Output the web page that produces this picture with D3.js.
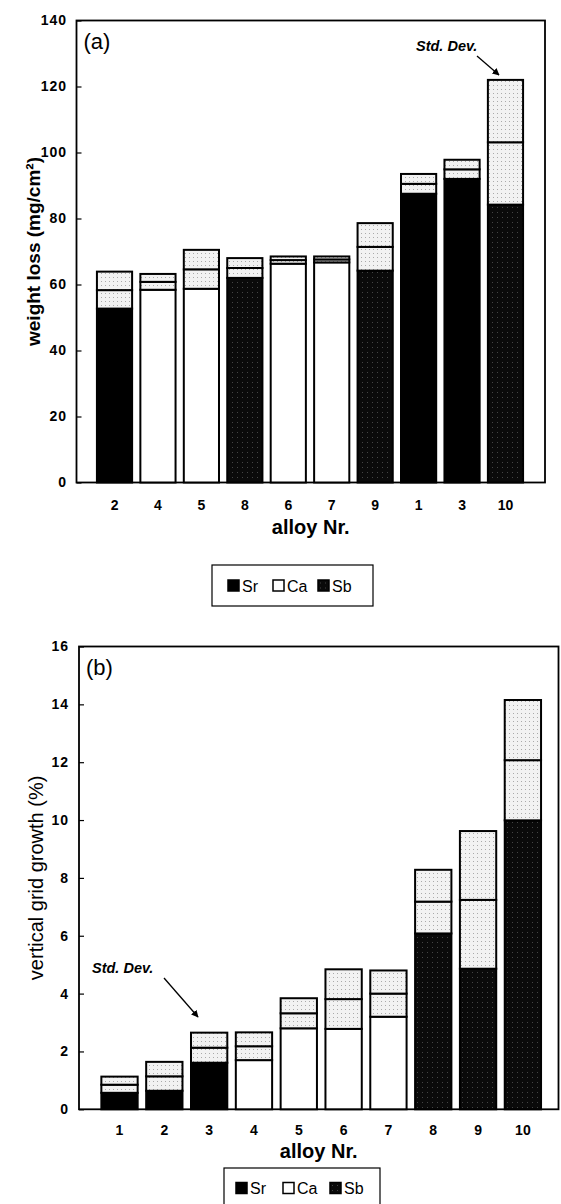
<!DOCTYPE html>
<html>
<head>
<meta charset="utf-8">
<script src="https://cdn.jsdelivr.net/npm/d3@7"></script>
<style>
  body { margin: 0; background: #fff; }
  svg { display: block; font-family: "Liberation Sans", Arial, sans-serif; }
</style>
</head>
<body>
<div id="chart"></div>
<script>
// data
const alloyType = ["Sr", "Sr", "Sr", "Ca", "Ca", "Ca", "Ca", "Sb", "Sb", "Sb"]; // alloy 1..10

const alloysA = ["2", "4", "5", "8", "6", "7", "9", "1", "3", "10"];
const meanA = [58.3, 60.8, 64.6, 65.0, 67.4, 67.6, 71.4, 90.5, 94.9, 103.1];
const sdA = [5.6, 2.4, 5.9, 3.0, 1.1, 0.9, 7.2, 3.0, 2.9, 18.9];
const ticksA = [0, 20, 40, 60, 80, 100, 120, 140];

const alloysB = ["1", "2", "3", "4", "5", "6", "7", "8", "9", "10"];
const meanB = [0.85, 1.14, 2.13, 2.18, 3.32, 3.81, 4.0, 7.18, 7.24, 12.07];
const sdB = [0.28, 0.5, 0.52, 0.48, 0.52, 1.03, 0.8, 1.1, 2.38, 2.08];
const ticksB = [0, 2, 4, 6, 8, 10, 12, 14, 16];

const legendKeys = ["Sr", "Ca", "Sb"];

const W = 561, H = 1204;
const svg = d3.select("#chart").append("svg").attr("width", W).attr("height", H);

// fills
const defs = svg.append("defs");
const sbPat = defs.append("pattern").attr("id", "sb").attr("width", 5).attr("height", 5)
  .attr("patternUnits", "userSpaceOnUse");
sbPat.append("rect").attr("width", 5).attr("height", 5).attr("fill", "#0a0a0a");
sbPat.append("rect").attr("x", 2).attr("y", 2).attr("width", 1).attr("height", 1).attr("fill", "#444");
const sdPat = defs.append("pattern").attr("id", "sd").attr("width", 4).attr("height", 4)
  .attr("patternUnits", "userSpaceOnUse");
sdPat.append("rect").attr("width", 4).attr("height", 4).attr("fill", "#f2f2f2");
sdPat.append("rect").attr("x", 1).attr("y", 1).attr("width", 1).attr("height", 1).attr("fill", "#aaa");

defs.append("marker").attr("id", "arrow").attr("viewBox", "0 0 10 10")
  .attr("refX", 9).attr("refY", 5).attr("markerWidth", 5.5).attr("markerHeight", 5.5)
  .attr("orient", "auto")
  .append("path").attr("d", "M0,0L10,5L0,10z").attr("fill", "#000");

const typeFill = { Sr: "#000", Ca: "#fff", Sb: "url(#sb)" };

const drawPanel = (cfg) => {
  const { alloys, mean, sd, ticks, box, band, label, yTitle, yTitleBold, yTitleSize,
          xPad, xTitleY, legend, stdDev, tickRight } = cfg;

  const x = d3.scaleBand().domain(alloys).range(band).paddingInner(0.19).paddingOuter(0.095);
  const y = d3.scaleLinear().domain([0, d3.max(ticks)]).range([box.bottom, box.top]);

  const g = svg.append("g");

  // frame
  g.append("rect")
    .attr("x", box.left).attr("y", box.top)
    .attr("width", box.right - box.left).attr("height", box.bottom - box.top)
    .attr("fill", "none").attr("stroke", "#000").attr("stroke-width", 1.8);

  // y axis with inside ticks
  g.append("g")
    .attr("transform", `translate(${box.left},0)`)
    .call(d3.axisLeft(y).tickValues(ticks).tickSize(-5).tickPadding(box.left - tickRight))
    .call((a) => a.select(".domain").remove())
    .call((a) => a.selectAll("line").attr("stroke-width", 1.2))
    .call((a) => a.selectAll("text").attr("font-size", 14).attr("font-weight", "bold")
      .attr("font-family", "Liberation Sans, Arial, sans-serif").attr("letter-spacing", 1).attr("fill", "#000"));

  // x axis labels
  g.append("g")
    .attr("transform", `translate(0,${box.bottom})`)
    .call(d3.axisBottom(x).tickSize(0).tickPadding(xPad))
    .call((a) => a.select(".domain").remove())
    .call((a) => a.selectAll("text").attr("font-size", 14).attr("font-weight", "bold")
      .attr("font-family", "Liberation Sans, Arial, sans-serif").attr("fill", "#000"));

  // bars: body up to mean - sd, then two std dev segments
  const rows = alloys.map((a, i) => ({ alloy: a, type: alloyType[+a - 1], mean: mean[i], sd: sd[i] }));
  const bar = g.selectAll(".bar").data(rows).enter().append("g").attr("class", "bar");
  const seg = (lo, hi, fill) => (sel) => sel
    .attr("x", (d) => x(d.alloy))
    .attr("width", x.bandwidth())
    .attr("y", (d) => y(hi(d)))
    .attr("height", (d) => y(lo(d)) - y(hi(d)))
    .attr("fill", fill)
    .attr("stroke", "#000").attr("stroke-width", 2);
  bar.append("rect").call(seg(() => 0, (d) => d.mean - d.sd, (d) => typeFill[d.type]));
  bar.append("rect").call(seg((d) => d.mean - d.sd, (d) => d.mean, "url(#sd)"));
  bar.append("rect").call(seg((d) => d.mean, (d) => d.mean + d.sd, "url(#sd)"));

  // panel label
  g.append("text").attr("x", box.left + 7).attr("y", box.top + 28)
    .attr("font-size", 22).text(label);

  // axis titles
  g.append("text")
    .attr("transform", `translate(${cfg.yTitleX},${(box.top + box.bottom) / 2}) rotate(-90)`)
    .attr("text-anchor", "middle")
    .attr("font-size", yTitleSize).attr("font-weight", yTitleBold ? "bold" : "normal")
    .text(yTitle);
  g.append("text").attr("x", (box.left + box.right) / 2).attr("y", xTitleY)
    .attr("text-anchor", "middle").attr("font-size", 20).attr("font-weight", "bold")
    .text("alloy Nr.");

  // Std. Dev. annotation
  g.append("text").attr("x", stdDev.tx).attr("y", stdDev.ty)
    .attr("font-size", 14.5).attr("font-style", "italic").attr("font-weight", "bold")
    .text("Std. Dev.");
  g.append("line")
    .attr("x1", stdDev.x1).attr("y1", stdDev.y1).attr("x2", stdDev.x2).attr("y2", stdDev.y2)
    .attr("stroke", "#000").attr("stroke-width", 1.3).attr("marker-end", "url(#arrow)");

  // legend
  const lg = g.append("g").attr("transform", `translate(${legend.x},${legend.y})`);
  lg.append("rect").attr("width", legend.w).attr("height", legend.h)
    .attr("fill", "#fff").attr("stroke", "#000").attr("stroke-width", 1.2);
  legendKeys.forEach((k, i) => {
    const item = lg.append("g").attr("transform", `translate(${legend.first + i * legend.step},${legend.h / 2})`);
    item.append("rect").attr("x", 0).attr("y", -5.5).attr("width", 11).attr("height", 11)
      .attr("fill", typeFill[k]).attr("stroke", "#000").attr("stroke-width", 1.5);
    item.append("text").attr("x", 14).attr("y", 6).attr("font-size", 16).text(k);
  });
};

drawPanel({
  alloys: alloysA, mean: meanA, sd: sdA, ticks: ticksA,
  box: { left: 76.5, right: 545, top: 20.5, bottom: 482.5 },
  band: [92.8, 527.2],
  tickRight: 67,
  label: "(a)",
  yTitle: "weight loss (mg/cm²)", yTitleBold: true, yTitleSize: 19, yTitleX: 40,
  xPad: 18, xTitleY: 534,
  legend: { x: 212, y: 565, w: 161, h: 41, first: 16, step: 45 },
  stdDev: { tx: 416, ty: 51, x1: 477, y1: 56, x2: 499, y2: 75 },
});

drawPanel({
  alloys: alloysB, mean: meanB, sd: sdB, ticks: ticksB,
  box: { left: 79, right: 558.5, top: 646.5, bottom: 1109.3 },
  band: [97.1, 545.3],
  tickRight: 69,
  label: "(b)",
  yTitle: "vertical grid growth (%)", yTitleBold: false, yTitleSize: 20, yTitleX: 43,
  xPad: 16, xTitleY: 1158,
  legend: { x: 224, y: 1168, w: 156, h: 40, first: 12, step: 47 },
  stdDev: { tx: 92, ty: 973, x1: 164, y1: 978, x2: 198, y2: 1017 },
});
</script>
</body>
</html>
